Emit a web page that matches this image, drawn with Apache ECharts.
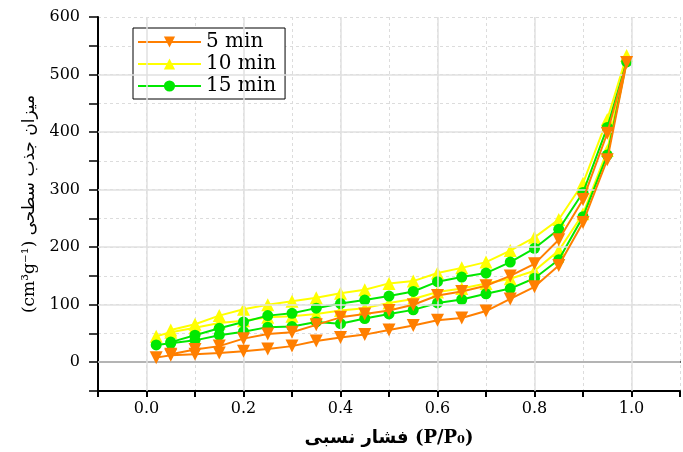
<!DOCTYPE html>
<html>
<head>
<meta charset="utf-8">
<script src="https://cdn.jsdelivr.net/npm/echarts@6/dist/echarts.min.js"></script>
<style>
  html, body { margin: 0; padding: 0; background: #fff; }
  #chart { width: 683px; height: 452px; }
</style>
</head>
<body>
<div id="chart"></div>
<script>
/* relative pressure P/P0: adsorption goes up, desorption comes back down */
const pressureAds = [0.02, 0.05, 0.1, 0.15, 0.2, 0.25, 0.3, 0.35, 0.4, 0.45, 0.5,
  0.55, 0.6, 0.65, 0.7, 0.75, 0.8, 0.85, 0.9, 0.95, 0.99];
const pressureDes = [0.95, 0.9, 0.85, 0.8, 0.75, 0.7, 0.65, 0.6, 0.55, 0.5,
  0.45, 0.4, 0.35, 0.3, 0.25, 0.2, 0.15, 0.1, 0.05];

/* adsorbed volume (cm3/g) */
const ads5 = [8, 12, 14, 16, 19, 23, 28, 37, 43, 48, 56, 64, 73, 77, 89, 110, 131, 168, 243, 352, 521];
const des5 = [398, 283, 213, 171, 150, 133, 123, 116, 100, 90, 84, 78, 65, 52, 49, 41, 28, 22, 14];
const ads10 = [45, 52, 60, 68, 72, 78, 80, 84, 90, 94, 103, 110, 122, 128, 137, 145, 159, 194, 258, 368, 533];
const des10 = [422, 311, 248, 217, 194, 174, 164, 155, 141, 137, 126, 120, 112, 106, 100, 92, 81, 66, 56];
const ads15 = [30, 33, 38, 47, 53, 61, 62, 70, 67, 76, 84, 91, 103, 109, 119, 128, 146, 178, 253, 360, 522];
const des15 = [408, 295, 231, 198, 174, 155, 148, 140, 123, 115, 108, 102, 94, 85, 81, 70, 59, 47, 35];

const seriesNames = ["5 min", "10 min", "15 min"];
const xMajor = [0, 0.2, 0.4, 0.6, 0.8, 1.0];
const yMajor = [0, 100, 200, 300, 400, 500];

const loop = (ads, des) =>
  ads.map((v, i) => [pressureAds[i], v]).concat(des.map((v, i) => [pressureDes[i], v]));

const SERIF = "'DejaVu Serif', 'DejaVu Sans', serif";
const ORANGE = "#ff7f00";
const YELLOW = "#ffff00";
const GREEN = "#00e800";

const chart = echarts.init(document.getElementById("chart"), null, { renderer: "canvas" });

// solid grid lines on the major ticks (minor ones come from dashed splitLine)
const majorLines = xMajor.map((v) => ({ xAxis: v })).concat(yMajor.map((v) => ({ yAxis: v })));

const lineSeries = (name, data, color, symbol, size, rotate, z) => ({
  name,
  type: "line",
  data,
  symbol,
  symbolSize: size,
  symbolRotate: rotate,
  z,
  lineStyle: { color, width: 2 },
  itemStyle: { color },
  animation: false,
});

chart.setOption({
  backgroundColor: "#fff",
  animation: false,
  grid: { left: 98, top: 17, width: 595, height: 376, containLabel: false },
  legend: {
    left: 133,
    top: 28,
    orient: "vertical",
    backgroundColor: "#fff",
    borderColor: "#000",
    borderWidth: 1,
    padding: [4, 9, 3, 4],
    itemWidth: 63,
    itemHeight: 14,
    itemGap: 2,
    textStyle: { fontFamily: SERIF, fontSize: 20, color: "#000" },
    data: seriesNames,
  },
  xAxis: [
    {
      type: "value",
      min: -0.1,
      max: 1.1,
      interval: 0.1,
      name: "فشار نسبی (P/P₀)",
      nameLocation: "middle",
      nameGap: 38,
      nameTextStyle: { fontFamily: SERIF, fontSize: 18, fontWeight: "bold", color: "#000" },
      axisLine: { onZero: false, lineStyle: { color: "#000", width: 2 } },
      axisTick: { show: true, length: 6, lineStyle: { color: "#000", width: 2 } },
      axisLabel: {
        margin: 10,
        fontFamily: SERIF,
        fontSize: 16,
        color: "#000",
        formatter: (v) => (Math.round(v * 10) % 2 === 0 && v >= 0 && v <= 1.0001 ? v.toFixed(1) : ""),
      },
      splitLine: { show: true, lineStyle: { color: "#dcdcdc", width: 1, type: [3, 3] } },
    },
    {
      type: "value",
      position: "top",
      min: -0.1,
      max: 1.1,
      axisLine: { lineStyle: { color: "#333", width: 2 } },
      axisTick: { show: false },
      axisLabel: { show: false },
      splitLine: { show: false },
    },
  ],
  yAxis: {
    type: "value",
    min: -50,
    max: 600,
    interval: 50,
    name: "(cm³g⁻¹) میزان جذب سطحی",
    nameLocation: "middle",
    nameGap: 60,
    nameTextStyle: { fontFamily: SERIF, fontSize: 17, color: "#000" },
    axisLine: { onZero: false, lineStyle: { color: "#000", width: 2 } },
    axisTick: { show: true, length: 9, lineStyle: { color: "#000", width: 1.5 } },
    axisLabel: {
      margin: 18,
      fontFamily: SERIF,
      fontSize: 16,
      color: "#000",
      formatter: (v) => (v >= 0 && v % 100 === 0 ? String(v) : ""),
    },
    splitLine: { show: true, lineStyle: { color: "#dcdcdc", width: 1, type: [3, 3] } },
  },
  series: [
    {
      name: "grid-major",
      type: "line",
      data: [],
      z: 1,
      silent: true,
      markLine: {
        silent: true,
        symbol: "none",
        label: { show: false },
        animation: false,
        lineStyle: { color: "#e0e0e0", width: 1.5, type: "solid" },
        data: majorLines,
      },
    },
    lineSeries(seriesNames[1], loop(ads10, des10), YELLOW, "triangle", 13, 0, 3),
    lineSeries(seriesNames[2], loop(ads15, des15), GREEN, "circle", 11, 0, 4),
    lineSeries(seriesNames[0], loop(ads5, des5), ORANGE, "triangle", 13, 180, 5),
  ],
});
</script>
</body>
</html>
